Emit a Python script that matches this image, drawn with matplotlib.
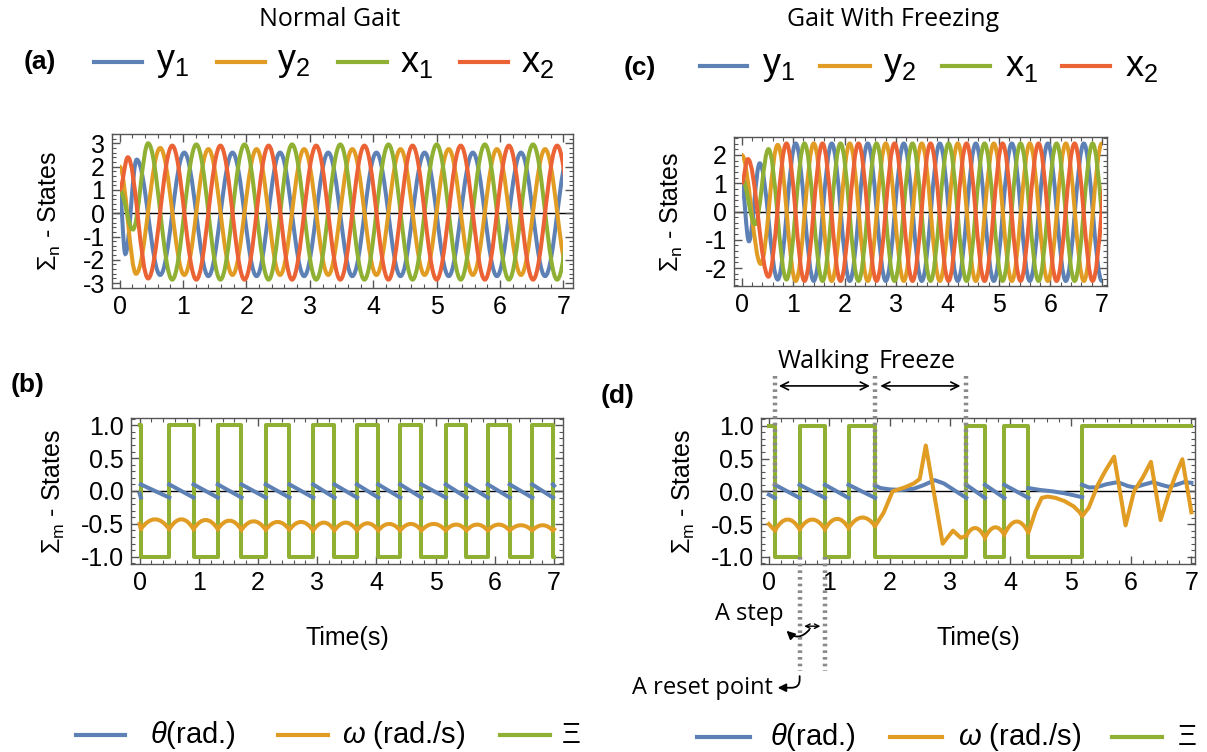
import matplotlib
matplotlib.use("Agg")
import matplotlib.pyplot as plt
import numpy as np
from matplotlib.path import Path
from matplotlib.patches import PathPatch, Rectangle
from matplotlib.lines import Line2D
from matplotlib.ticker import MultipleLocator, FuncFormatter

BLUE, ORANGE, GREEN, RED = "#5E81B5", "#E19C24", "#8FB032", "#EB6235"
W, H = 1207, 752

# ---------------- panel (a): normal gait, CPG states (extrema)
a_y1_t = [0, 0.09, 0.27, 0.64, 1.02, 1.40, 1.78, 2.16, 2.53, 2.91, 3.29, 3.67, 4.05, 4.43, 4.81, 5.19, 5.57, 5.95, 6.33, 6.71, 7.09]
a_y1_v = [0.95, -1.75, 2.3, -2.65, 2.6, -2.7, 2.6, -2.7, 2.6, -2.7, 2.6, -2.7, 2.6, -2.7, 2.6, -2.7, 2.6, -2.7, 2.6, -2.7, 2.6]
a_y2_t = [0, 0.26, 0.64, 1.02, 1.40, 1.78, 2.16, 2.53, 2.91, 3.29, 3.67, 4.05, 4.43, 4.81, 5.19, 5.57, 5.95, 6.33, 6.71, 7.09]
a_y2_v = [2.0, -2.6, 2.8, -2.65, 2.75, -2.65, 2.75, -2.65, 2.75, -2.65, 2.75, -2.65, 2.75, -2.65, 2.75, -2.65, 2.75, -2.65, 2.75, -2.65]
a_x1_t = [0, 0.21, 0.45, 0.83, 1.21, 1.59, 1.97, 2.35, 2.72, 3.10, 3.48, 3.86, 4.24, 4.62, 5.00, 5.38, 5.76, 6.14, 6.52, 6.90, 7.28]
a_x1_v = [1.0, -0.7, 3.0, -2.85, 2.95, -2.85, 2.95, -2.85, 2.95, -2.85, 2.95, -2.85, 2.95, -2.85, 2.95, -2.85, 2.95, -2.85, 2.95, -2.85, 2.95]
a_x2_t = [0, 0.13, 0.45, 0.83, 1.21, 1.59, 1.97, 2.35, 2.72, 3.10, 3.48, 3.86, 4.24, 4.62, 5.00, 5.38, 5.76, 6.14, 6.52, 6.90, 7.28]
a_x2_v = [1.0, 2.4, -2.8, 2.9, -2.85, 2.9, -2.85, 2.9, -2.85, 2.9, -2.85, 2.9, -2.85, 2.9, -2.85, 2.9, -2.85, 2.9, -2.85, 2.9, -2.85]

# ---------------- panel (c): gait with freezing, CPG states
c_y1_t = [0, 0.14, 0.35, 0.70, 1.05, 1.40, 1.75, 2.10, 2.45, 2.80, 3.15, 3.50, 3.85, 4.20, 4.55, 4.90, 5.25, 5.60, 5.95, 6.30, 6.65, 7.00, 7.35]
c_y1_v = [1.0, -1.05, 1.7, -2.4, 2.4, -2.45, 2.4, -2.45, 2.4, -2.45, 2.4, -2.45, 2.4, -2.45, 2.4, -2.45, 2.4, -2.45, 2.4, -2.45, 2.4, -2.45, 2.4]
c_y2_t = [0, 0.37, 0.70, 1.05, 1.40, 1.75, 2.10, 2.45, 2.80, 3.15, 3.50, 3.85, 4.20, 4.55, 4.90, 5.25, 5.60, 5.95, 6.30, 6.65, 7.00, 7.35]
c_y2_v = [2.0, -1.85, 2.35, -2.45, 2.4, -2.45, 2.4, -2.45, 2.4, -2.45, 2.4, -2.45, 2.4, -2.45, 2.4, -2.45, 2.4, -2.45, 2.4, -2.45, 2.4, -2.45]
c_x1_t = [0, 0.26, 0.52, 0.87, 1.22, 1.57, 1.92, 2.27, 2.62, 2.97, 3.32, 3.67, 4.02, 4.37, 4.72, 5.07, 5.42, 5.77, 6.12, 6.47, 6.82, 7.17]
c_x1_v = [1.2, -0.45, 2.2, -2.4, 2.4, -2.45, 2.4, -2.45, 2.4, -2.45, 2.4, -2.45, 2.4, -2.45, 2.4, -2.45, 2.4, -2.45, 2.4, -2.45, 2.4, -2.45]
c_x2_t = [0, 0.12, 0.52, 0.87, 1.22, 1.57, 1.92, 2.27, 2.62, 2.97, 3.32, 3.67, 4.02, 4.37, 4.72, 5.07, 5.42, 5.77, 6.12, 6.47, 6.82, 7.17]
c_x2_v = [1.0, 1.85, -2.3, 2.4, -2.45, 2.4, -2.45, 2.4, -2.45, 2.4, -2.45, 2.4, -2.45, 2.4, -2.45, 2.4, -2.45, 2.4, -2.45, 2.4, -2.45, 2.4]

# ---------------- panel (b): walker states, normal gait
b_switch_t = [0.02, 0.50, 0.91, 1.32, 1.72, 2.13, 2.53, 2.93, 3.29, 3.67, 4.03, 4.40, 4.76, 5.17, 5.52, 5.88, 6.25, 6.63, 6.98]
b_xi_v = [1, -1, 1, -1, 1, -1, 1, -1, 1, -1, 1, -1, 1, -1, 1, -1, 1, -1, 1, -1]
b_theta_hi = [-0.04] + [0.10] * 19
b_theta_lo = [-0.10] * 19 + [0.08]
b_omega_cusp = [-0.50, -0.58, -0.58, -0.58, -0.58, -0.59, -0.59, -0.59, -0.60, -0.60, -0.60,
                -0.60, -0.60, -0.60, -0.60, -0.60, -0.60, -0.60, -0.60, -0.60]
b_omega_peak = [-0.43, -0.43, -0.44, -0.45, -0.46, -0.47, -0.47, -0.48, -0.48, -0.49,
                -0.50, -0.50, -0.50, -0.51, -0.51, -0.51, -0.52, -0.52]

# ---------------- panel (d): walker states with freezing
d_switch_t = [0.10, 0.51, 0.93, 1.32, 1.76, 3.27, 3.58, 3.90, 4.30, 5.19]
d_xi_v = [1, -1, 1, -1, 1, -1, 1, -1, 1, -1, 1]
d_theta_t = [0, 0.10, np.nan, 0.10, 0.51, np.nan, 0.51, 0.93, np.nan, 0.93, 1.32, np.nan, 1.32, 1.76, np.nan,
             1.76, 1.85, 2.0, 2.2, 2.4, 2.55, 2.75, 2.9, 3.05, 3.27, np.nan,
             3.27, 3.58, np.nan, 3.58, 3.90, np.nan, 3.90, 4.30, np.nan,
             4.30, 4.5, 4.7, 4.9, 5.05, 5.19, np.nan,
             5.19, 5.3, 5.42, 5.6, 5.78, 5.95, 6.06, 6.2, 6.36, 6.5, 6.62, 6.75, 6.88, 7.0]
d_theta_v = [-0.05, -0.10, np.nan, 0.10, -0.10, np.nan, 0.10, -0.10, np.nan, 0.10, -0.10, np.nan, 0.10, -0.10, np.nan,
             0.09, 0.05, 0.03, 0.02, 0.04, 0.09, 0.17, 0.12, 0.03, -0.10, np.nan,
             0.10, -0.10, np.nan, 0.10, -0.10, np.nan, 0.10, -0.10, np.nan,
             0.05, 0.02, 0.0, -0.03, -0.06, -0.09, np.nan,
             0.10, 0.06, 0.06, 0.11, 0.14, 0.08, 0.06, 0.10, 0.14, 0.10, 0.07, 0.10, 0.14, 0.13]
d_hump_t = [[0.10, 0.51, 0.93, 1.32, 1.76], [3.27, 3.58, 3.90, 4.30]]
d_hump_cusp = [[-0.60, -0.58, -0.58, -0.56, -0.53], [-0.68, -0.71, -0.66, -0.63]]
d_hump_peak = [[-0.43, -0.43, -0.42, -0.40], [-0.56, -0.55, -0.46]]
d_omega_t = [0, 0.10, np.nan,
             1.76, 1.9, 2.05, 2.25, 2.4, 2.5, 2.6, 2.88, 3.05, 3.18, 3.27, np.nan,
             4.30, 4.42, 4.52, 4.62, 4.75, 4.9, 5.05, 5.15, 5.19,
             5.3, 5.45, 5.58, 5.72, 5.91, 6.05, 6.2, 6.33, 6.49, 6.62, 6.74, 6.85, 7.0]
d_omega_v = [-0.50, -0.60, np.nan,
             -0.53, -0.33, 0.0, 0.06, 0.12, 0.19, 0.70, -0.80, -0.60, -0.71, -0.68, np.nan,
             -0.63, -0.30, -0.10, -0.08, -0.10, -0.15, -0.23, -0.32, -0.38,
             -0.25, 0.10, 0.32, 0.53, -0.52, 0.0, 0.22, 0.45, -0.44, -0.05, 0.25, 0.49, -0.32]

plt.rcParams.update({
    "font.family": "Liberation Sans", "axes.unicode_minus": False,
    "mathtext.fontset": "custom", "mathtext.rm": "Liberation Sans",
    "mathtext.it": "Liberation Sans:italic",
})
LW = 2.9


def fx(x):
    return x / W


def fy(y):
    return 1 - y / H


def add_axes(fig, left, right, top, bottom):
    return fig.add_axes([fx(left), fy(bottom), fx(right - left), (bottom - top) / H])


def style(ax, xlim, ylim, ymaj, ymin, fmt):
    ax.set_xlim(xlim); ax.set_ylim(ylim)
    ax.xaxis.set_major_locator(MultipleLocator(1)); ax.xaxis.set_minor_locator(MultipleLocator(0.2))
    ax.yaxis.set_major_locator(MultipleLocator(ymaj)); ax.yaxis.set_minor_locator(MultipleLocator(ymin))
    ax.yaxis.set_major_formatter(FuncFormatter(lambda v, p: fmt.format(v + 0.0)))
    ax.tick_params(which="both", direction="in", top=True, right=True, color="#555555",
                   labelsize=18, pad=5)
    ax.tick_params(which="major", length=6, width=1)
    ax.tick_params(which="minor", length=3, width=0.8)
    for s in ax.spines.values():
        s.set_color("#555555"); s.set_linewidth(1.0)
    ax.axhline(0, color="black", lw=1.0, zorder=1)


def wave(ax, ts, vs, color, lw=LW):
    verts, codes = [(ts[0], vs[0])], [Path.MOVETO]
    for t0, v0, t1, v1 in zip(ts[:-1], vs[:-1], ts[1:], vs[1:]):
        d = 0.36 * (t1 - t0)
        verts += [(t0 + d, v0), (t1 - d, v1), (t1, v1)]
        codes += [Path.CURVE4] * 3
    patch = PathPatch(Path(verts, codes), fill=False, edgecolor=color, lw=lw, zorder=3)
    ax.add_patch(patch)
    patch.set_clip_path(Rectangle((0, -10), 7.0, 20, transform=ax.transData))


def humps(ax, ts, cusps, peaks, color, lw=LW):
    verts, codes = [(ts[0], cusps[0])], [Path.MOVETO]
    for i, p in enumerate(peaks):
        c0, c1 = cusps[i], cusps[i + 1]
        verts += [((ts[i] + ts[i + 1]) / 2, 2 * p - (c0 + c1) / 2), (ts[i + 1], c1)]
        codes += [Path.CURVE3] * 2
    ax.add_patch(PathPatch(Path(verts, codes), fill=False, edgecolor=color, lw=lw, zorder=3))


def legend_row(fig, y, items, size):
    for x0, x1, tx, color, label in items:
        fig.add_artist(Line2D([fx(x0), fx(x1)], [fy(y), fy(y)], color=color, lw=3))
        fig.text(fx(tx), fy(y), label, fontsize=size, va="center", ha="left")


fig = plt.figure(figsize=(W / 100, H / 100), dpi=100)

# (a)
ax_a = add_axes(fig, 112, 573, 134, 288)
for ts, vs, c in [(a_y1_t, a_y1_v, BLUE), (a_y2_t, a_y2_v, ORANGE),
                  (a_x1_t, a_x1_v, GREEN), (a_x2_t, a_x2_v, RED)]:
    wave(ax_a, ts, vs, c)
style(ax_a, (-0.12, 7.15), (-3.21, 3.4), 1, 0.2, "{:.0f}")
ax_a.set_ylabel(r"$\Sigma_{\rm n}$ - States", fontsize=18, labelpad=14)

# (c)
ax_c = add_axes(fig, 734, 1107, 137, 286)
for ts, vs, c in [(c_y1_t, c_y1_v, BLUE), (c_y2_t, c_y2_v, ORANGE),
                  (c_x1_t, c_x1_v, GREEN), (c_x2_t, c_x2_v, RED)]:
    wave(ax_c, ts, vs, c)
style(ax_c, (-0.15, 7.1), (-2.63, 2.63), 1, 0.2, "{:.0f}")
ax_c.set_ylabel(r"$\Sigma_{\rm n}$ - States", fontsize=18, labelpad=14)

# (b)
ax_b = add_axes(fig, 131, 563, 418, 564)
b_xi_t = [0] + b_switch_t + [7.0]
ax_b.plot(b_xi_t, b_xi_v + [b_xi_v[-1]], drawstyle="steps-post", color=GREEN, lw=LW, zorder=3)
th_t, th_v = [], []
for i in range(len(b_xi_t) - 1):
    th_t += [b_xi_t[i], b_xi_t[i + 1], np.nan]
    th_v += [b_theta_hi[i], b_theta_lo[i], np.nan]
ax_b.plot(th_t, th_v, color=BLUE, lw=LW, zorder=4)
ax_b.plot([0, b_switch_t[0]], [b_omega_cusp[0], b_omega_cusp[1]], color=ORANGE, lw=LW, zorder=4)
humps(ax_b, b_switch_t, b_omega_cusp[1:], b_omega_peak, ORANGE)
ax_b.plot([b_switch_t[-1], 7.0], [b_omega_cusp[-1], -0.58], color=ORANGE, lw=LW, zorder=4)
style(ax_b, (-0.146, 7.15), (-1.11, 1.11), 0.5, 0.1, "{:.1f}")
ax_b.set_ylabel(r"$\Sigma_{\rm m}$ - States", fontsize=18, labelpad=10)
ax_b.set_xlabel("Time(s)", fontsize=18, labelpad=22)

# (d)
ax_d = add_axes(fig, 761, 1195, 418, 564)
d_xi_t = [0] + d_switch_t + [7.0]
ax_d.plot(d_xi_t, d_xi_v + [d_xi_v[-1]], drawstyle="steps-post", color=GREEN, lw=LW, zorder=3)
ax_d.plot(d_theta_t, d_theta_v, color=BLUE, lw=LW, zorder=4)
ax_d.plot(d_omega_t, d_omega_v, color=ORANGE, lw=LW, zorder=4)
for ts, cs, ps in zip(d_hump_t, d_hump_cusp, d_hump_peak):
    humps(ax_d, ts, cs, ps, ORANGE)
style(ax_d, (-0.13, 7.06), (-1.11, 1.12), 0.5, 0.1, "{:.1f}")
ax_d.set_ylabel(r"$\Sigma_{\rm m}$ - States", fontsize=18, labelpad=10)
ax_d.set_xlabel("Time(s)", fontsize=18, labelpad=22)

# annotations on (d)
dot = dict(color="#8a8a8a", lw=3.2, ls=(0, (0.6, 0.9)), clip_on=False, zorder=6)
for t in [d_switch_t[0], d_switch_t[4], d_switch_t[5]]:
    ax_d.plot([t, t], [1.76, -0.05], **dot)
for t in [d_switch_t[1], d_switch_t[2]]:
    ax_d.plot([t, t], [-1.0, -2.74], **dot)
arr = dict(arrowstyle="<->", color="black", lw=1.2, mutation_scale=14)
ax_d.annotate("", xy=(0.12, 1.61), xytext=(1.72, 1.61), arrowprops=arr, annotation_clip=False)
ax_d.annotate("", xy=(1.80, 1.61), xytext=(3.22, 1.61), arrowprops=arr, annotation_clip=False)
ax_d.text(0.9, 1.98, "Walking", fontsize=18, family="Open Sans", ha="center", va="center", clip_on=False)
ax_d.text(2.46, 1.98, "Freeze", fontsize=18, family="Open Sans", ha="center", va="center", clip_on=False)
ax_d.annotate("", xy=(0.54, -2.06), xytext=(0.90, -2.06), annotation_clip=False,
              arrowprops=dict(arrowstyle="<->", color="black", lw=1.0, mutation_scale=8))
ax_d.annotate("", xy=(0.26, -2.1), xytext=(0.70, -2.08), annotation_clip=False,
              arrowprops=dict(arrowstyle="-|>", color="black", lw=1.3, mutation_scale=12,
                              connectionstyle="arc3,rad=-0.6"))
ax_d.text(0.25, -1.88, "A step", fontsize=17, family="Open Sans", ha="right", va="center", clip_on=False)
ax_d.annotate("", xy=(0.1, -3.0), xytext=(0.51, -2.78), annotation_clip=False,
              arrowprops=dict(arrowstyle="-|>", color="black", lw=1.3, mutation_scale=12,
                              connectionstyle="angle,angleA=-90,angleB=0,rad=8"))
ax_d.text(0.06, -3.0, "A reset point", fontsize=17, family="Open Sans", ha="right", va="center", clip_on=False)

# titles, panel labels, legends
fig.text(fx(330), fy(20), "Normal Gait", fontsize=18, family="Open Sans", ha="center", va="center")
fig.text(fx(893), fy(20), "Gait With Freezing", fontsize=18, family="Open Sans", ha="center", va="center")
for x, y, s in [(40, 62, "(a)"), (28, 385, "(b)"), (640, 68, "(c)"), (618, 396, "(d)")]:
    fig.text(fx(x), fy(y), s, fontsize=19, fontweight="bold", ha="center", va="center")

legend_row(fig, 62, [(94, 142, 156, BLUE, r"y$_1$"), (217, 265, 277, ORANGE, r"y$_2$"),
                     (338, 387, 400, GREEN, r"x$_1$"), (460, 508, 521, RED, r"x$_2$")], 26)
legend_row(fig, 66, [(700, 747, 762, BLUE, r"y$_1$"), (820, 870, 883, ORANGE, r"y$_2$"),
                     (942, 990, 1005, GREEN, r"x$_1$"), (1062, 1110, 1125, RED, r"x$_2$")], 26)
legend_row(fig, 735, [(76, 125, 150, BLUE, r"$\theta$(rad.)"), (278, 328, 342, ORANGE, r"$\omega$ (rad./s)"),
                      (500, 550, 562, GREEN, "Ξ")], 21)
legend_row(fig, 737, [(697, 750, 770, BLUE, r"$\theta$(rad.)"), (890, 942, 958, ORANGE, r"$\omega$ (rad./s)"),
                      (1112, 1162, 1178, GREEN, "Ξ")], 21)

fig.savefig("out.png", dpi=100)
